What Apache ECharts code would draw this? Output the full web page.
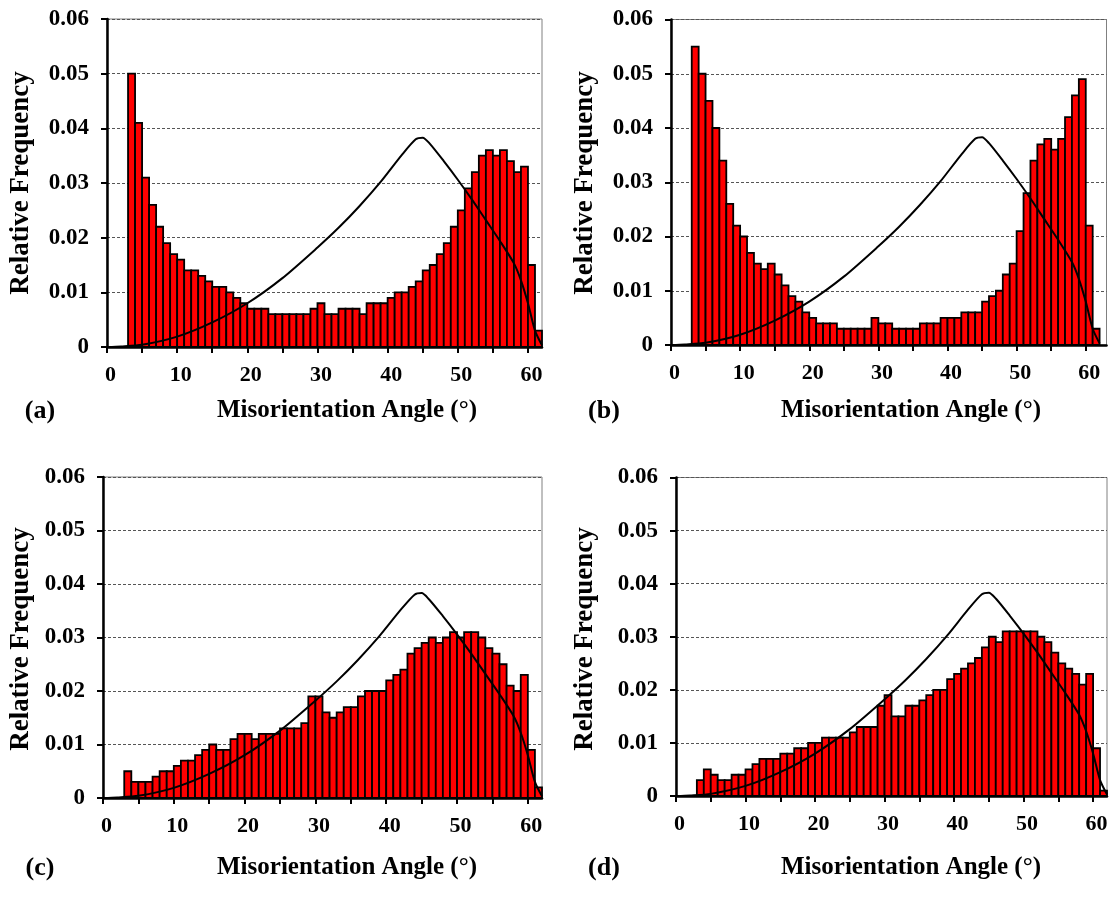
<!DOCTYPE html>
<html>
<head>
<meta charset="utf-8">
<script src="https://cdn.jsdelivr.net/npm/echarts@6/dist/echarts.min.js"></script>
<style>
  html, body { margin: 0; padding: 0; background: #fff; }
  #chart { width: 1111px; height: 898px; }
</style>
</head>
<body>
<div id="chart"></div>
<script>
// bin start angles (deg), each bin is 1 deg wide
var binStart = [3, 4, 5, 6, 7, 8, 9, 10, 11, 12, 13, 14, 15, 16, 17, 18, 19, 20, 21, 22,
  23, 24, 25, 26, 27, 28, 29, 30, 31, 32, 33, 34, 35, 36, 37, 38, 39, 40, 41, 42,
  43, 44, 45, 46, 47, 48, 49, 50, 51, 52, 53, 54, 55, 56, 57, 58, 59, 60, 61];

// relative frequency, panel (a)
var freqA = [0.050, 0.041, 0.031, 0.026, 0.022, 0.019, 0.017, 0.016, 0.014, 0.014,
  0.013, 0.012, 0.011, 0.011, 0.010, 0.009, 0.008, 0.007, 0.007, 0.007,
  0.006, 0.006, 0.006, 0.006, 0.006, 0.006, 0.007, 0.008, 0.006, 0.006,
  0.007, 0.007, 0.007, 0.006, 0.008, 0.008, 0.008, 0.009, 0.010, 0.010,
  0.011, 0.012, 0.014, 0.015, 0.017, 0.019, 0.022, 0.025, 0.029, 0.032,
  0.035, 0.036, 0.035, 0.036, 0.034, 0.032, 0.033, 0.015, 0.003];

// panel (b)
var freqB = [0.055, 0.050, 0.045, 0.040, 0.034, 0.026, 0.022, 0.020, 0.017, 0.015,
  0.014, 0.015, 0.013, 0.011, 0.009, 0.008, 0.006, 0.005, 0.004, 0.004,
  0.004, 0.003, 0.003, 0.003, 0.003, 0.003, 0.005, 0.004, 0.004, 0.003,
  0.003, 0.003, 0.003, 0.004, 0.004, 0.004, 0.005, 0.005, 0.005, 0.006,
  0.006, 0.006, 0.008, 0.009, 0.010, 0.013, 0.015, 0.021, 0.028, 0.034,
  0.037, 0.038, 0.036, 0.038, 0.042, 0.046, 0.049, 0.022, 0.003];

// panel (c)
var freqC = [0.005, 0.003, 0.003, 0.003, 0.004, 0.005, 0.005, 0.006, 0.007, 0.007,
  0.008, 0.009, 0.010, 0.009, 0.009, 0.011, 0.012, 0.012, 0.011, 0.012,
  0.012, 0.012, 0.013, 0.013, 0.013, 0.014, 0.019, 0.019, 0.016, 0.015,
  0.016, 0.017, 0.017, 0.019, 0.020, 0.020, 0.020, 0.022, 0.023, 0.024,
  0.027, 0.028, 0.029, 0.030, 0.029, 0.030, 0.031, 0.030, 0.031, 0.031,
  0.030, 0.028, 0.027, 0.025, 0.021, 0.020, 0.023, 0.009, 0.002];

// panel (d)
var freqD = [0.003, 0.005, 0.004, 0.003, 0.003, 0.004, 0.004, 0.005, 0.006, 0.007,
  0.007, 0.007, 0.008, 0.008, 0.009, 0.009, 0.010, 0.010, 0.011, 0.011,
  0.011, 0.011, 0.012, 0.013, 0.013, 0.013, 0.017, 0.019, 0.015, 0.015,
  0.017, 0.017, 0.018, 0.019, 0.020, 0.020, 0.022, 0.023, 0.024, 0.025,
  0.026, 0.028, 0.030, 0.029, 0.031, 0.031, 0.031, 0.031, 0.031, 0.030,
  0.029, 0.027, 0.025, 0.024, 0.023, 0.021, 0.023, 0.009, 0.001];

// Mackenzie random distribution
var mackAngle = [0, 2, 5, 10, 15, 20, 25, 30, 33, 36, 39, 42, 44, 45, 46, 48, 50, 52, 54, 56, 58, 59, 60, 61, 62];
var mackFreq = [0, 0.0001, 0.0004, 0.0019, 0.0045, 0.0080, 0.0126, 0.0182, 0.0218, 0.0258,
  0.0302, 0.0351, 0.0380, 0.0383, 0.0372, 0.0340, 0.0306, 0.0270, 0.0232, 0.0194,
  0.0153, 0.0122, 0.0080, 0.0030, 0.0003];

var xTicks = [0, 5, 10, 15, 20, 25, 30, 35, 40, 45, 50, 55, 60];
var xLabels = [0, 10, 20, 30, 40, 50, 60];
var panelNames = ['(a)', '(b)', '(c)', '(d)'];
var xTitle = 'Misorientation Angle (°)';
var yTitle = 'Relative Frequency';

var FONT = "'Liberation Serif', 'Times New Roman', serif";

var myChart = echarts.init(document.getElementById('chart'), null, { renderer: 'canvas' });

// plot boxes for the four panels
var grids = [
    { left: 107, top: 19, width: 435, height: 328 },
    { left: 671, top: 19.5, width: 435.5, height: 325.5 },
    { left: 103, top: 477, width: 439, height: 321 },
    { left: 676, top: 477.5, width: 431, height: 318.5 }
];
var xMax = [62, 63, 62, 62];
var freqs = [freqA, freqB, freqC, freqD];

var xAxes = [], yAxes = [], series = [], graphics = [];

function pairs(xs, ys) {
    var out = [];
    for (var i = 0; i < xs.length; i++) out.push([xs[i], ys[i]]);
    return out;
}

function renderBar(params, api) {
    var x0 = api.value(0);
    var v = api.value(1);
    var p0 = api.coord([x0, 0]);
    var p1 = api.coord([x0 + 1, v]);
    return {
        type: 'rect',
        shape: { x: p0[0], y: p1[1], width: p1[0] - p0[0], height: p0[1] - p1[1] },
        style: { fill: '#ff0000', stroke: '#000', lineWidth: 1.8 }
    };
}

for (var i = 0; i < 4; i++) {
    grids[i].show = true;
    grids[i].borderColor = '#808080';
    grids[i].borderWidth = 1;
    grids[i].backgroundColor = 'transparent';

    xAxes.push({
        gridIndex: i,
        type: 'value',
        min: 0,
        max: xMax[i],
        interval: 5,
        splitLine: { show: false },
        axisLine: { show: true, onZero: false, lineStyle: { color: '#000', width: 2.5 } },
        axisTick: { show: true, inside: false, length: 6, customValues: xTicks, lineStyle: { color: '#000', width: 2 } },
        axisLabel: {
            customValues: xLabels,
            margin: 17,
            padding: [0, 0, 0, 7],
            color: '#000',
            fontFamily: FONT,
            fontWeight: 'bold',
            fontSize: 22
        }
    });
    yAxes.push({
        gridIndex: i,
        type: 'value',
        min: 0,
        max: 0.06,
        interval: 0.01,
        splitLine: { show: true, lineStyle: { color: '#555', width: 1, type: [3, 2] } },
        axisLine: { show: true, lineStyle: { color: '#000', width: 2.5 } },
        axisTick: { show: true, inside: false, length: 6, lineStyle: { color: '#000', width: 2 } },
        axisLabel: {
            margin: 18,
            color: '#000',
            fontFamily: FONT,
            fontWeight: 'bold',
            fontSize: 23,
            formatter: function (v) { return v === 0 ? '0' : v.toFixed(2); }
        }
    });

    series.push({
        name: 'hist' + i,
        type: 'custom',
        xAxisIndex: i,
        yAxisIndex: i,
        renderItem: renderBar,
        encode: { x: 0, y: 1 },
        data: pairs(binStart, freqs[i]),
        z: 2
    });
    series.push({
        name: 'mackenzie' + i,
        type: 'line',
        xAxisIndex: i,
        yAxisIndex: i,
        smooth: 0.25,
        symbol: 'none',
        lineStyle: { color: '#000', width: 2 },
        data: pairs(mackAngle, mackFreq),
        z: 3
    });
}

// titles and panel letters
var rowY = [411, 868];
var colYTitle = [21, 585];
var colXTitle = [347, 911];
var colLetter = [40, 604];
var rowYCenter = [183, 639];
for (var r = 0; r < 2; r++) {
    for (var c = 0; c < 2; c++) {
        graphics.push({
            type: 'text', x: colXTitle[c], y: rowY[r],
            style: { text: xTitle, font: 'bold 25px ' + FONT, fill: '#000', textAlign: 'center', textVerticalAlign: 'middle' }
        });
        graphics.push({
            type: 'text', x: colLetter[c], y: rowY[r],
            style: { text: panelNames[r * 2 + c], font: 'bold 26px ' + FONT, fill: '#000', textAlign: 'center', textVerticalAlign: 'middle' }
        });
        graphics.push({
            type: 'text', x: colYTitle[c], y: rowYCenter[r], rotation: Math.PI / 2,
            style: { text: yTitle, font: 'bold 27px ' + FONT, fill: '#000', textAlign: 'center', textVerticalAlign: 'middle' }
        });
    }
}

var option = {
    backgroundColor: '#fff',
    animation: false,
    grid: grids,
    xAxis: xAxes,
    yAxis: yAxes,
    series: series,
    graphic: graphics
};
myChart.setOption(option);
</script>
</body>
</html>
